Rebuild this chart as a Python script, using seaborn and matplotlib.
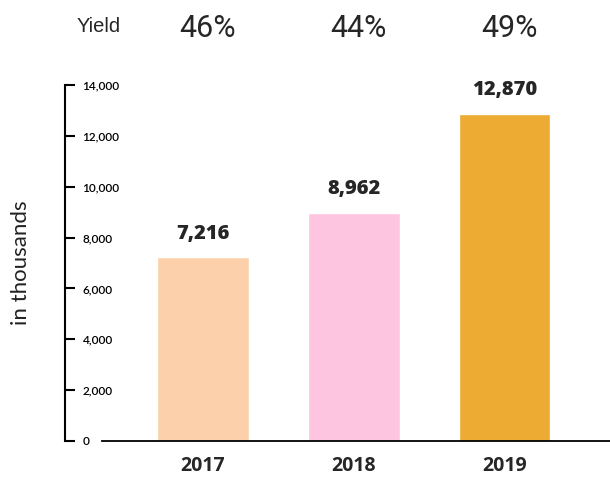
import matplotlib
matplotlib.use("Agg")
import matplotlib.pyplot as plt
import matplotlib.transforms as mtransforms
import seaborn as sns
import pandas as pd

# data
years = ["2017", "2018", "2019"]
values = [7216, 8962, 12870]
yields = ["46%", "44%", "49%"]
colors = ["#FCD0AA", "#FDC5DF", "#EDAB33"]

df = pd.DataFrame({"year": years, "value": values})

sns.set_style("white")
plt.rcParams["font.family"] = ["Lato", "DejaVu Sans"]
bold_font = ["Open Sans", "DejaVu Sans"]

fig = plt.figure(figsize=(6.1, 4.82), dpi=100)
ax = fig.add_axes([0.1672, 0.0851, 0.8328, 0.7386])

sns.barplot(data=df, x="year", y="value", hue="year", palette=colors,
            width=0.61, legend=False, ax=ax, saturation=1)

# spines first: moving a spine resets the ticks
sns.despine(ax=ax, top=True, right=True)
ax.spines["left"].set_position(("outward", 26.6))
ax.spines["left"].set_linewidth(1.5)
ax.spines["left"].set_color("black")
ax.spines["bottom"].set_linewidth(1.3)
ax.spines["bottom"].set_color("black")

ax.set_xlim(-0.67, 2.70)
ax.set_ylim(0, 14000)
ax.set_yticks(range(0, 14001, 2000))
ax.set_yticklabels([f"{v:,}" for v in range(0, 14001, 2000)],
                   fontsize=8.5, fontweight="semibold")
# ticks point into the plot, labels sit right of the spine
ax.tick_params(axis="y", left=True, direction="in", length=7, width=1.5,
               pad=-12.5, colors="black")
for lab in ax.get_yticklabels():
    lab.set_ha("left")
ax.tick_params(axis="x", bottom=False, length=0, pad=11)
for lab in ax.get_xticklabels():
    lab.set_fontsize(14)
    lab.set_fontweight("bold")
    lab.set_family(bold_font)

ax.set_xlabel("")
ax.set_ylabel("in thousands", fontsize=16, color="#222222")
ax.yaxis.set_label_coords(-0.14, 0.5)

for c in ax.containers:
    ax.bar_label(c, labels=[f"{int(v):,}" for v in c.datavalues], padding=10,
                 fontsize=14.5, fontweight="heavy", family=bold_font)

# yield row above the plot
trans = mtransforms.blended_transform_factory(ax.transData, fig.transFigure)
for i, y in enumerate(yields):
    ax.text(i + 0.03, 0.94, y, transform=trans, ha="center", va="center",
            fontsize=22, family=["Roboto", "DejaVu Sans"])
fig.text(0.161, 0.945, "Yield", ha="center", va="center", fontsize=14.5,
         family=["Liberation Sans", "DejaVu Sans"])

fig.savefig("out.png", dpi=100)
